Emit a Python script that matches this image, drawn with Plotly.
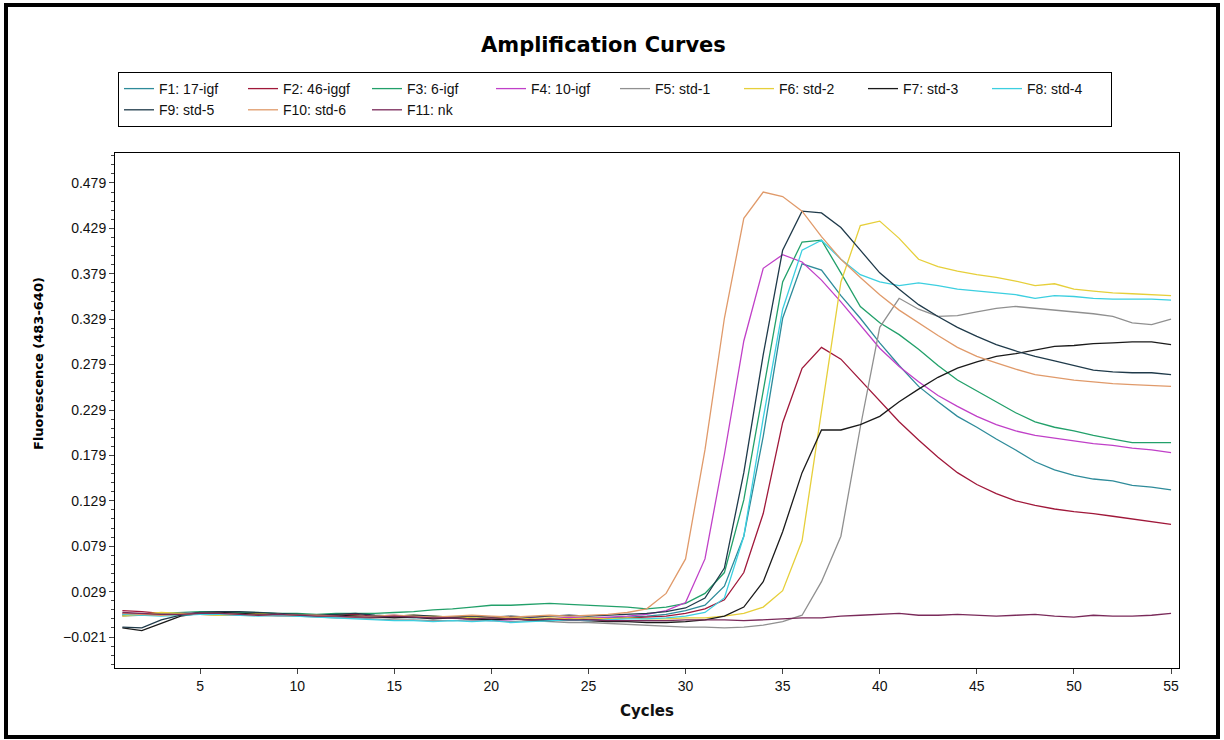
import plotly.graph_objects as go

cycles = list(range(1, 56))

names = ["F1: 17-igf", "F2: 46-iggf", "F3: 6-igf", "F4: 10-igf", "F5: std-1", "F6: std-2",
         "F7: std-3", "F8: std-4", "F9: std-5", "F10: std-6", "F11: nk"]
colors = ["#2E8B9A", "#A0183A", "#22A06A", "#C040C8", "#909090", "#E6CF3A",
          "#1A1A1A", "#3CCFE0", "#1F3A4A", "#E09A6A", "#7A2A5A"]

f1 = [0.005, 0.004, 0.003, 0.004, 0.005, 0.006, 0.005, 0.004, 0.004, 0.003,
      0.003, 0.002, 0.002, 0.001, 0.001, 0.000, 0.000, 0.001, 0.000, -0.001,
      -0.001, 0.000, -0.001, -0.001, 0.000, 0.000, 0.001, 0.002, 0.004, 0.008,
      0.014, 0.035, 0.090, 0.200, 0.330, 0.390, 0.383, 0.355, 0.330, 0.303,
      0.278, 0.255, 0.238, 0.222, 0.210, 0.197, 0.185, 0.172, 0.163, 0.157,
      0.153, 0.151, 0.146, 0.144, 0.141]
f2 = [0.008, 0.007, 0.005, 0.004, 0.006, 0.007, 0.005, 0.003, 0.004, 0.003,
      0.002, 0.003, 0.004, 0.002, 0.001, 0.002, 0.000, 0.001, -0.001, -0.002,
      0.000, -0.003, -0.001, 0.000, -0.002, -0.001, 0.000, 0.001, 0.002, 0.005,
      0.010, 0.020, 0.050, 0.115, 0.215, 0.275, 0.298, 0.285, 0.262, 0.240,
      0.216, 0.196, 0.177, 0.160, 0.147, 0.137, 0.129, 0.124, 0.120, 0.117,
      0.115, 0.112, 0.109, 0.106, 0.103]
f3 = [0.003, 0.004, 0.005, 0.006, 0.007, 0.007, 0.006, 0.006, 0.005, 0.005,
      0.004, 0.005, 0.005, 0.005, 0.006, 0.007, 0.009, 0.010, 0.012, 0.014,
      0.014, 0.015, 0.016, 0.015, 0.014, 0.013, 0.012, 0.010, 0.012, 0.016,
      0.027, 0.050, 0.130, 0.250, 0.370, 0.414, 0.416, 0.380, 0.343, 0.325,
      0.312, 0.296, 0.278, 0.262, 0.250, 0.238, 0.226, 0.216, 0.210, 0.206,
      0.201, 0.197, 0.193, 0.193, 0.193]
f4 = [0.004, 0.003, 0.004, 0.005, 0.005, 0.004, 0.003, 0.004, 0.004, 0.003,
      0.002, 0.001, 0.001, 0.002, 0.003, 0.001, 0.000, 0.000, -0.002, -0.003,
      -0.002, 0.000, -0.001, 0.001, 0.000, 0.001, 0.002, 0.004, 0.008, 0.017,
      0.065, 0.180, 0.305, 0.385, 0.400, 0.392, 0.372, 0.348, 0.322, 0.297,
      0.277, 0.260, 0.245, 0.233, 0.222, 0.213, 0.206, 0.201, 0.198, 0.195,
      0.192, 0.190, 0.187, 0.185, 0.182]
f5 = [0.002, 0.003, 0.004, 0.005, 0.004, 0.003, 0.004, 0.003, 0.002, 0.002,
      0.001, 0.000, 0.000, -0.001, -0.002, -0.002, -0.003, -0.003, -0.002, -0.003,
      -0.004, -0.003, -0.004, -0.005, -0.005, -0.006, -0.007, -0.008, -0.009, -0.010,
      -0.010, -0.011, -0.010, -0.008, -0.004, 0.003, 0.040, 0.090, 0.210, 0.320,
      0.352, 0.340, 0.332, 0.333, 0.337, 0.341, 0.343, 0.341, 0.339, 0.337,
      0.335, 0.332, 0.325, 0.323, 0.329]
f6 = [0.002, 0.004, 0.006, 0.005, 0.004, 0.003, 0.004, 0.005, 0.004, 0.003,
      0.002, 0.003, 0.002, 0.001, 0.002, 0.003, 0.002, 0.001, 0.000, 0.000,
      0.001, -0.001, 0.000, -0.001, 0.000, -0.001, 0.000, -0.001, -0.001, 0.000,
      0.000, 0.002, 0.005, 0.012, 0.030, 0.085, 0.230, 0.370, 0.432, 0.437,
      0.418, 0.395, 0.387, 0.382, 0.378, 0.375, 0.371, 0.366, 0.368, 0.362,
      0.360, 0.358, 0.357, 0.356, 0.355]
f7 = [-0.011, -0.014, -0.006, 0.002, 0.005, 0.006, 0.005, 0.004, 0.003, 0.003,
      0.002, 0.003, 0.002, 0.001, 0.000, 0.001, -0.001, 0.000, -0.001, -0.002,
      -0.001, -0.002, -0.003, -0.002, -0.003, -0.004, -0.004, -0.005, -0.005, -0.004,
      -0.002, 0.002, 0.012, 0.040, 0.095, 0.160, 0.207, 0.207, 0.213, 0.222,
      0.238, 0.252, 0.265, 0.275, 0.282, 0.288, 0.291, 0.295, 0.299, 0.300,
      0.302, 0.303, 0.304, 0.304, 0.301]
f8 = [0.004, 0.003, 0.002, 0.003, 0.004, 0.004, 0.003, 0.002, 0.003, 0.002,
      0.001, 0.000, -0.001, -0.002, -0.003, -0.003, -0.004, -0.003, -0.004, -0.003,
      -0.005, -0.004, -0.003, -0.002, -0.003, -0.002, -0.001, -0.001, 0.000, 0.002,
      0.006, 0.022, 0.090, 0.220, 0.340, 0.405, 0.416, 0.395, 0.378, 0.370,
      0.366, 0.369, 0.366, 0.362, 0.360, 0.358, 0.356, 0.352, 0.355, 0.354,
      0.352, 0.351, 0.351, 0.351, 0.350]
f9 = [-0.010, -0.011, -0.002, 0.003, 0.006, 0.007, 0.007, 0.006, 0.005, 0.004,
      0.003, 0.004, 0.005, 0.003, 0.002, 0.003, 0.002, 0.001, 0.002, 0.001,
      0.002, 0.001, 0.002, 0.003, 0.002, 0.003, 0.004, 0.005, 0.007, 0.011,
      0.022, 0.055, 0.160, 0.290, 0.405, 0.448, 0.446, 0.430, 0.405, 0.380,
      0.362, 0.345, 0.332, 0.320, 0.310, 0.301, 0.294, 0.288, 0.283, 0.278,
      0.273, 0.271, 0.270, 0.270, 0.268]
f10 = [0.005, 0.004, 0.003, 0.004, 0.005, 0.005, 0.004, 0.003, 0.004, 0.003,
       0.003, 0.002, 0.001, 0.002, 0.003, 0.002, 0.001, 0.002, 0.003, 0.002,
       0.001, 0.002, 0.003, 0.002, 0.003, 0.004, 0.006, 0.010, 0.027, 0.065,
       0.185, 0.330, 0.440, 0.469, 0.464, 0.448, 0.420, 0.395, 0.375, 0.356,
       0.339, 0.325, 0.311, 0.298, 0.288, 0.281, 0.274, 0.268, 0.265, 0.262,
       0.260, 0.258, 0.257, 0.256, 0.255]
f11 = [0.006, 0.005, 0.004, 0.004, 0.005, 0.005, 0.004, 0.003, 0.004, 0.003,
       0.002, 0.002, 0.001, 0.001, 0.002, 0.001, 0.000, 0.000, -0.001, 0.000,
       -0.001, -0.002, -0.001, -0.002, -0.002, -0.003, -0.003, -0.003, -0.003, -0.002,
       -0.002, -0.002, -0.003, -0.002, -0.001, 0.000, 0.000, 0.002, 0.003, 0.004,
       0.005, 0.003, 0.003, 0.004, 0.003, 0.002, 0.003, 0.004, 0.002, 0.001,
       0.003, 0.002, 0.002, 0.003, 0.005]

series = [f1, f2, f3, f4, f5, f6, f7, f8, f9, f10, f11]

fig = go.Figure()
for name, col, vals in zip(names, colors, series):
    fig.add_trace(go.Scatter(x=cycles, y=vals, mode="lines", name=name,
                             line=dict(color=col, width=1.3)))

W, H = 1224, 740
L, R, T, B = 115, 45, 153, 72
pw, ph = W - L - R, H - T - B

def px(x):
    return (x - L) / pw

def py(y):
    return (H - B - y) / ph

fig.update_layout(
    width=W, height=H,
    margin=dict(l=L, r=R, t=T, b=B),
    paper_bgcolor="white", plot_bgcolor="white",
    font=dict(family="Liberation Sans, Arial, sans-serif", size=13, color="#111"),
    showlegend=True,
    legend=dict(orientation="h", x=px(118), y=py(72), xanchor="left", yanchor="top",
                bordercolor="black", borderwidth=1, bgcolor="white",
                font=dict(size=14), entrywidth=79, entrywidthmode="pixels",
                itemwidth=30, tracegroupgap=0),
    annotations=[
        dict(text="<b>Amplification Curves</b>", x=px(603), y=py(45),
             xref="paper", yref="paper", showarrow=False,
             xanchor="center", yanchor="middle",
             font=dict(family="DejaVu Sans", size=21, color="black")),
        dict(text="<b>Fluorescence (483-640)</b>", x=px(38), y=py(364),
             xref="paper", yref="paper", showarrow=False, textangle=-90,
             xanchor="center", yanchor="middle",
             font=dict(family="DejaVu Sans", size=13, color="black")),
    ],
    shapes=[dict(type="rect", xref="paper", yref="paper",
                 x0=px(6), x1=px(1218), y0=py(737), y1=py(5),
                 line=dict(color="black", width=4))],
)

fig.update_xaxes(range=[0.62, 55.41], tick0=0, dtick=5, ticks="outside", ticklen=5,
                 showline=True, linecolor="black", linewidth=1, mirror=True,
                 showgrid=False, zeroline=False,
                 title=dict(text="<b>Cycles</b>", font=dict(family="DejaVu Sans", size=15), standoff=12),
                 tickfont=dict(size=14))
fig.update_yaxes(range=[-0.0551, 0.512], tick0=-0.021, dtick=0.05, tickformat=".3f",
                 ticks="outside", ticklen=5,
                 minor=dict(dtick=0.01, tick0=-0.021, ticks="outside", ticklen=3, tickcolor="#444"),
                 showline=True, linecolor="black", linewidth=1, mirror=True,
                 showgrid=False, zeroline=False,
                 tickfont=dict(size=14))

fig.write_html("out.html", config={"displayModeBar": False},
               post_script="document.body.style.margin='0px';")
